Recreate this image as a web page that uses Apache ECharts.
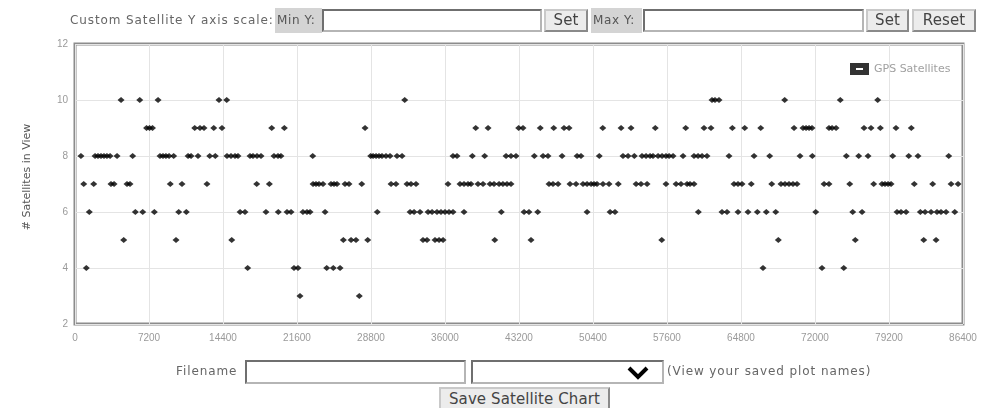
<!DOCTYPE html>
<html><head><meta charset="utf-8">
<script src="https://cdn.jsdelivr.net/npm/echarts@6/dist/echarts.min.js"></script>
<style>
html,body{margin:0;padding:0;background:#fff;width:984px;height:408px;overflow:hidden;font-family:"DejaVu Sans",Verdana,sans-serif;}
#chart{position:absolute;left:0;top:0;width:984px;height:408px;}
.c{position:absolute;box-sizing:border-box;white-space:nowrap;}
.lbl{color:#666;font-size:12px;letter-spacing:0.9px;}
.glbl{background:#d4d4d4;color:#555;font-size:12px;line-height:25px;padding-left:2px;letter-spacing:0.6px;}
.inp{border:2px solid #6f6f6f;border-right-color:#b5b5b5;border-bottom-color:#b5b5b5;background:#fff;}
.btn{background:#ececec;border:2px solid #8a8a8a;border-top-color:#c9c9c9;border-left-color:#c9c9c9;color:#444;font-size:15px;text-align:center;letter-spacing:0.1px;}
</style></head>
<body>
<div id="chart"></div>
<div class="c lbl" style="left:70px;top:13px;">Custom Satellite Y axis scale:</div>
<div class="c glbl" style="left:275px;top:8px;width:47px;height:25px;">Min Y:</div>
<div class="c inp" style="left:322px;top:9px;width:220px;height:23px;"></div>
<div class="c btn" style="left:544px;top:9px;width:44px;height:23px;line-height:19px;">Set</div>
<div class="c glbl" style="left:591px;top:8px;width:51px;height:25px;">Max Y:</div>
<div class="c inp" style="left:643px;top:9px;width:221px;height:23px;"></div>
<div class="c btn" style="left:866px;top:9px;width:43px;height:23px;line-height:19px;">Set</div>
<div class="c btn" style="left:912px;top:9px;width:64px;height:23px;line-height:19px;">Reset</div>

<div class="c lbl" style="left:176px;top:364px;">Filename</div>
<div class="c inp" style="left:245px;top:360px;width:221px;height:24px;"></div>
<div class="c inp" style="left:471px;top:360px;width:193px;height:24px;">
  <svg style="position:absolute;left:154px;top:4px" width="22" height="14" viewBox="0 0 22 14"><polyline points="2,2 11,11 20,2" fill="none" stroke="#000" stroke-width="4"/></svg>
</div>
<div class="c lbl" style="left:667px;top:364px;">(View your saved plot names)</div>
<div class="c btn" style="left:439px;top:387px;width:171px;height:24px;line-height:20px;">Save Satellite Chart</div>

<script>
// time of day (seconds) at which each satellite count was observed
var times3 = [21890, 27660];
var times4 = [1100, 16800, 21310, 21700, 24490, 25130, 25790, 66940, 72680, 74800];
var times5 = [4740, 9830, 15250, 26110, 26860, 27340, 28480, 33860, 34250, 35030, 35420, 35810, 40840, 44370, 57090, 68430, 75920, 82580, 83780];
var times6 = [1390, 5870, 6590, 7720, 10090, 10830, 16060, 16540, 18580, 19780, 20630, 21020, 22180, 22570, 22870, 24330, 29410, 32600, 32990, 33570, 34350, 34740, 35220, 35610, 36000, 36390, 36780, 37850, 41480, 43690, 44170, 45020, 49820, 52060, 52540, 60650, 62950, 63440, 64510, 65480, 66390, 67260, 68180, 72070, 75670, 76580, 79980, 80370, 80860, 82250, 82710, 83290, 83870, 84260, 84750, 85600];
var times7 = [850, 1820, 3500, 3800, 5060, 5350, 9270, 10410, 12840, 17680, 18910, 23160, 23450, 23740, 24130, 24910, 25200, 25490, 26270, 26660, 27900, 30750, 31230, 32300, 32690, 33180, 36290, 37460, 37850, 38240, 38530, 39210, 39700, 40380, 40770, 41260, 41640, 42030, 42420, 46120, 46510, 47000, 48160, 48750, 49430, 49820, 50210, 50500, 50790, 51370, 51960, 52860, 54590, 55070, 55660, 57500, 58480, 58960, 59550, 59840, 60230, 64120, 64510, 64900, 65800, 67790, 68690, 69080, 69470, 69860, 70250, 72880, 73360, 75380, 77710, 78520, 78810, 79110, 79400, 81660, 83450, 85240, 85920];
var times8 = [580, 1950, 2240, 2530, 2820, 3110, 3410, 4090, 5610, 8270, 8560, 8850, 9150, 9600, 11000, 11290, 11970, 13110, 13650, 14790, 15180, 15570, 15860, 17030, 17320, 17710, 18100, 19360, 19750, 20040, 23130, 28770, 29000, 29290, 29580, 29870, 30260, 30650, 31330, 31820, 36780, 37170, 38660, 39860, 41940, 42420, 42910, 44690, 45540, 46020, 47390, 48850, 49230, 51010, 53320, 53810, 54420, 55170, 55560, 55950, 56240, 56730, 57120, 57500, 57800, 58190, 59160, 60230, 60620, 61010, 61490, 63630, 66070, 67590, 70540, 71740, 75050, 76250, 77160, 79560, 81120, 82020, 85010];
var times9 = [6960, 7250, 7540, 11650, 12160, 12550, 13500, 14300, 19140, 20370, 28220, 38990, 40190, 43170, 43590, 45270, 46580, 47580, 48070, 51350, 53130, 54100, 56460, 59420, 61200, 61880, 63960, 65160, 66720, 69960, 70830, 71130, 71420, 71710, 73360, 73660, 74050, 76770, 77450, 78360, 79880, 81370];
var times10 = [4480, 6300, 8080, 14010, 14760, 32080, 61980, 62270, 62660, 69050, 74460, 78100];
var satelliteCounts = [3, 4, 5, 6, 7, 8, 9, 10];
var timeGroups = [times3, times4, times5, times6, times7, times8, times9, times10];
var seriesName = 'GPS Satellites';
var yAxisTitle = '# Satellites in View';

var points = [];
timeGroups.forEach(function (arr, i) {
  arr.forEach(function (t) { points.push([t, satelliteCounts[i]]); });
});

var chart = echarts.init(document.getElementById('chart'), null, {renderer: 'canvas'});
var labelStyle = {color: '#9a9a9a', fontSize: 10, fontFamily: 'Arial, "Liberation Sans", sans-serif'};
chart.setOption({
  animation: false,
  backgroundColor: '#fff',
  grid: {left: 75, right: 21, top: 44, bottom: 84, show: true, borderColor: '#8c8c8c', borderWidth: 3},
  xAxis: {
    type: 'value', min: 0, max: 86400, interval: 7200,
    axisLine: {show: false}, axisTick: {show: false},
    axisLabel: Object.assign({margin: 9, showMinLabel: true, showMaxLabel: true,
      formatter: function (v) { return String(v); }}, labelStyle),
    splitLine: {show: true, lineStyle: {color: '#e4e4e4', width: 1}}
  },
  yAxis: {
    type: 'value', min: 2, max: 12, interval: 2,
    axisLine: {show: false}, axisTick: {show: false},
    axisLabel: Object.assign({margin: 7}, labelStyle),
    splitLine: {show: true, lineStyle: {color: '#e4e4e4', width: 1}}
  },
  legend: {
    data: [seriesName], left: 845, top: 58, itemWidth: 19, itemHeight: 12,
    icon: 'path://M0,0H19V12H0Z M6,5V7H13V5Z',
    textStyle: {color: '#a0a0a0', fontSize: 11, fontFamily: '"DejaVu Sans", Verdana, sans-serif'}
  },
  graphic: [{
    type: 'text', x: 27, y: 177, rotation: Math.PI / 2,
    style: {text: yAxisTitle, fontSize: 11, fill: '#555', align: 'center', verticalAlign: 'middle', fontFamily: '"DejaVu Sans", Verdana, sans-serif'}
  }],
  series: [{
    name: seriesName, type: 'scatter', data: points,
    symbol: 'diamond', symbolSize: [7, 6],
    itemStyle: {color: '#000'}
  }]
});
</script>
</body></html>
